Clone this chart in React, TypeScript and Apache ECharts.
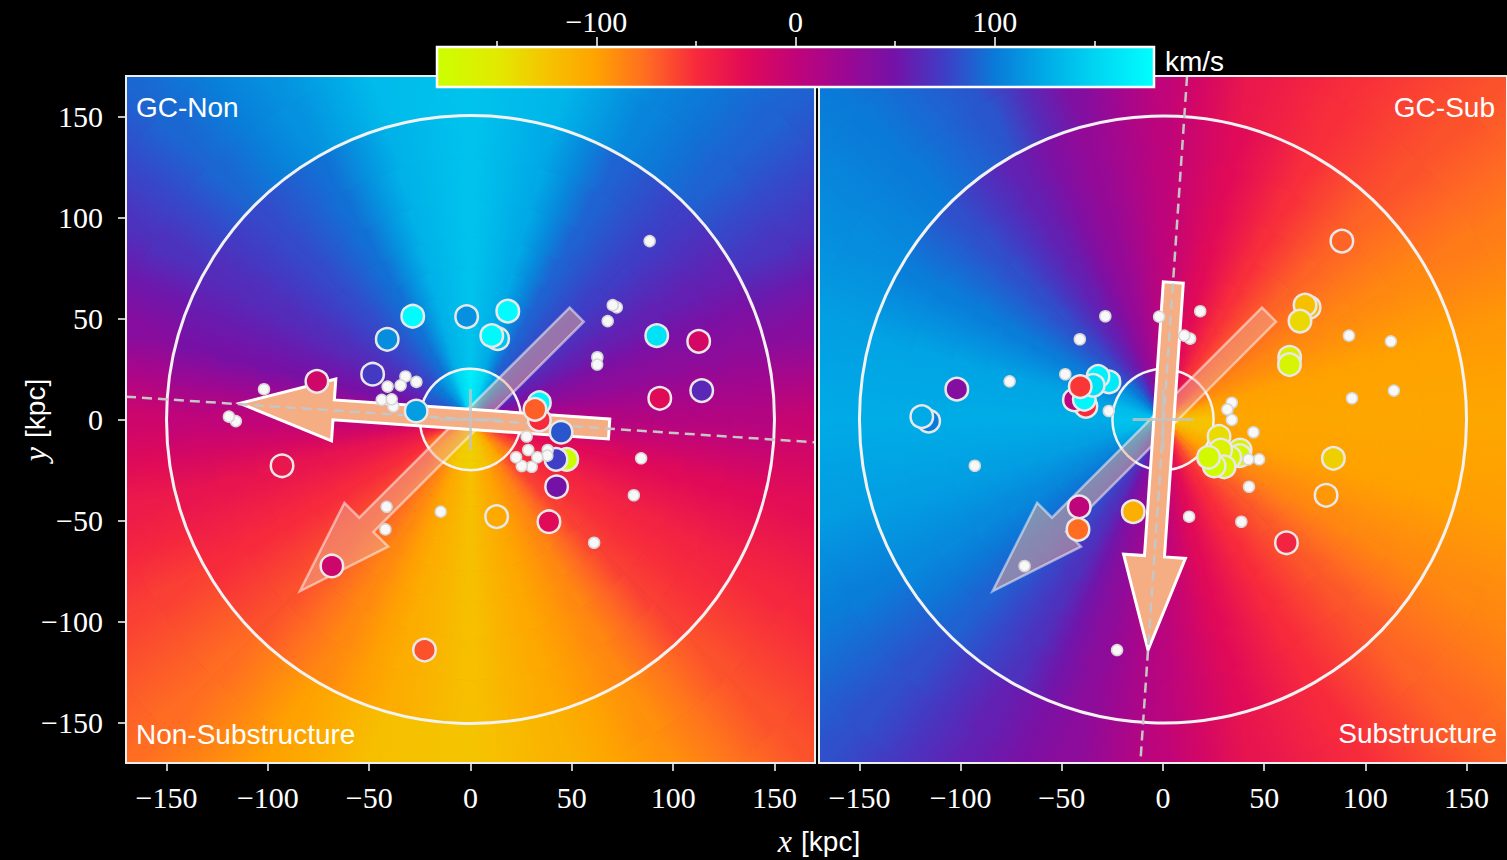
import React, { useEffect, useRef } from "react";
import * as echarts from "echarts";

// ---------- colour map (km/s -> colour) ----------
const cmapValues = [-180, -150, -125, -100, -75, -50, -25, 0, 25, 50, 75, 100, 125, 150, 180];
const cmapColors = [
  "#ccff00", "#e2ea00", "#f5c400", "#ffa200", "#ff6c22", "#f72a3c", "#e00a58",
  "#c00479", "#9c0893", "#7412a8", "#3e3ec6", "#0a7ad8", "#00aae6", "#00d4f2", "#00ffff",
];

// ---------- axes ----------
const panelTicks = [-150, -100, -50, 0, 50, 100, 150];
const cbarMajor = [-100, 0, 100];
const cbarMinor = [-150, -50, 50, 150];

// ---------- background velocity field, sampled by angle (deg, from +x, ccw) ----------
const fieldAngles = [0, 15, 30, 45, 60, 75, 90, 105, 120, 135, 150, 165, 180, 195, 210, 225, 240, 255, 270, 285, 300, 315, 330, 345];
// inner (r < 25 kpc), middle (25-150 kpc), outer (> 150 kpc)
const leftFieldInner = [10, 40, 68, 92, 122, 155, 168, 152, 122, 100, 88, 80, 30, -40, -75, -98, -118, -130, -132, -126, -112, -88, -62, -30];
const leftFieldMid = [8, 35, 58, 75, 90, 125, 140, 130, 96, 80, 65, 48, 0, -33, -50, -65, -88, -108, -122, -105, -88, -58, -45, -25];
const leftFieldOuter = [-5, 38, 70, 90, 105, 132, 140, 135, 112, 92, 68, 38, -10, -38, -58, -75, -100, -122, -125, -112, -92, -65, -48, -28];
const rightFieldInner = [-125, -108, -80, -55, -35, -15, 10, 40, 75, 100, 120, 135, 140, 135, 120, 100, 75, 45, 10, -30, -60, -88, -108, -122];
const rightFieldMid = [-103, -100, -88, -72, -52, -25, 2, 30, 58, 82, 102, 122, 126, 120, 108, 90, 68, 35, 5, -25, -50, -67, -88, -100];
const rightFieldOuter = [-103, -96, -82, -65, -52, -36, 0, 42, 85, 100, 110, 120, 125, 118, 102, 82, 58, 35, 0, -33, -50, -72, -88, -98];

// ---------- globular clusters ----------
const nonSubX = [-75.8, -93.0, -28.5, -1.9, -41.1, -48.3, -26.8, 91.9, 112.6, 93.4, 114.1, 18.4, 13.4, 10.5, 34.0, 34.0, 31.8, 44.7, 47.5, 42.2, 42.5, 12.9, 38.7, -68.4, -22.7];
const nonSubY = [18.9, -22.9, 51.1, 50.9, 39.7, 22.4, 4.2, 41.5, 38.7, 10.5, 14.3, 53.6, 40.0, 41.5, -0.2, 8.3, 5.0, -6.3, -19.7, -19.7, -33.3, -48.1, -50.6, -72.5, -114.1];
const nonSubV = [-12, -35, 178, 112, 110, 72, 118, 160, -15, -25, 62, 178, 140, 176, -50, 172, -70, 85, -178, 75, 50, -105, -25, -10, -65];

const subX = [-115.8, -119.2, -101.9, -38.1, -43.8, -38.9, -26.7, -32.1, -34.5, -40.9, 88.4, 72.2, 70.2, 67.7, 62.6, 62.5, 27.7, 38.1, 37.9, 33.0, 28.5, 30.2, 25.3, 22.5, 84.2, 80.6, 61.0, -14.7, -41.4, -42.0];
const subY = [-0.8, 1.4, 15.0, 6.5, 9.7, 10.0, 18.6, 21.3, 16.9, 16.3, 88.3, 55.5, 56.6, 48.7, 30.8, 27.2, -8.4, -15.1, -17.9, -18.7, -15.1, -23.4, -23.0, -18.7, -19.2, -37.5, -61.0, -45.6, -43.2, -54.4];
const subV = [100, 125, 40, -50, 5, 175, 165, 170, 160, -55, -72, -115, -122, -138, -158, -165, -140, -162, -170, -165, -160, -168, -175, -172, -132, -95, -45, -110, 0, -75];

// ---------- arrows [tailX, tailY, tipX, tipY] and reference lines ----------
const leftArrow = [68.4, -4.7, -113.8, 8.0];
const rightArrow = [5.1, 67.8, -7.4, -114.1];
const diagArrow = [52.4, 51.9, -84.2, -85.0];
const leftDashLine = [-170, 11.3, 170, -11.3];
const rightDashLine = [11.9, 170, -11.2, -170];
const circleRadii = [150, 25];
const crossHalf = [15];

// ---------- rendering constants ----------
const DEG = Math.PI / 180;
const ANGLE_STEP = 15;
const ringBands = [
  [0, 3, 5, 7, 9, 11, 13.5, 16.5, 20.5, 25],
  [25, 30, 36, 43, 52, 62, 75, 90, 108, 129, 150],
  [150, 180, 215, 260],
];
const SHAFT_W = 20;
const HEAD_W = 62;
const HEAD_L = 94;
const SALMON = "#f5ad84";
const TICK_FONT = 30;

function hexToRgb(h: string) {
  return [parseInt(h.slice(1, 3), 16), parseInt(h.slice(3, 5), 16), parseInt(h.slice(5, 7), 16)];
}
function cmap(v: number): string {
  const n = cmapValues.length;
  if (v <= cmapValues[0]) return cmapColors[0];
  if (v >= cmapValues[n - 1]) return cmapColors[n - 1];
  let i = 0;
  while (v > cmapValues[i + 1]) i++;
  const t = (v - cmapValues[i]) / (cmapValues[i + 1] - cmapValues[i]);
  const a = hexToRgb(cmapColors[i]);
  const b = hexToRgb(cmapColors[i + 1]);
  const c = a.map((x, j) => Math.round(x + (b[j] - x) * t));
  return `rgb(${c[0]},${c[1]},${c[2]})`;
}

const fmt = (v: number) => (v < 0 ? "\u2212" + Math.abs(v) : String(v));

function fieldData(profiles: number[][]) {
  const out: number[][] = [];
  profiles.forEach((prof, k) =>
    prof.forEach((v, i) => out.push([k, i, v, prof[(i + 1) % prof.length]]))
  );
  return out;
}

function renderField(params: any, api: any) {
  const k = api.value(0);
  const i = api.value(1);
  const v0 = api.value(2);
  const v1 = api.value(3);
  const a0 = fieldAngles[i] * DEG;
  const a1 = (fieldAngles[i] + ANGLE_STEP) * DEG;
  const c0 = cmap(v0);
  const cm = cmap((v0 + v1) / 2);
  const c1 = cmap(v1);
  const edges = ringBands[k];
  const children: any[] = [];
  const N = 4;
  for (let b = 0; b < edges.length - 1; b++) {
    const ra = edges[b];
    const rb = edges[b + 1];
    const pts: number[][] = [];
    for (let s = 0; s <= N; s++) {
      const a = a0 + ((a1 - a0) * s) / N;
      pts.push(api.coord([rb * Math.cos(a), rb * Math.sin(a)]));
    }
    if (ra === 0) pts.push(api.coord([0, 0]));
    else
      for (let s = N; s >= 0; s--) {
        const a = a0 + ((a1 - a0) * s) / N;
        pts.push(api.coord([ra * Math.cos(a), ra * Math.sin(a)]));
      }
    const rg = ra === 0 ? rb : ra;
    const p0 = api.coord([rg * Math.cos(a0), rg * Math.sin(a0)]);
    const p1 = api.coord([rg * Math.cos(a1), rg * Math.sin(a1)]);
    const mk = () => ({
      type: "linear",
      x: p0[0], y: p0[1], x2: p1[0], y2: p1[1],
      global: true,
      colorStops: [
        { offset: 0, color: c0 },
        { offset: 0.5, color: cm },
        { offset: 1, color: c1 },
      ],
    });
    children.push({
      type: "polygon",
      shape: { points: pts },
      style: { fill: mk(), stroke: mk(), lineWidth: 1 },
    });
  }
  return { type: "group", children };
}

function arrowPoints(api: any) {
  const p = api.coord([api.value(0), api.value(1)]);
  const q = api.coord([api.value(2), api.value(3)]);
  const dx = q[0] - p[0];
  const dy = q[1] - p[1];
  const L = Math.hypot(dx, dy);
  const ux = dx / L, uy = dy / L;
  const nx = -uy, ny = ux;
  const bx = q[0] - ux * HEAD_L, by = q[1] - uy * HEAD_L;
  const w = SHAFT_W / 2, h = HEAD_W / 2;
  return [
    [p[0] + nx * w, p[1] + ny * w],
    [bx + nx * w, by + ny * w],
    [bx + nx * h, by + ny * h],
    [q[0], q[1]],
    [bx - nx * h, by - ny * h],
    [bx - nx * w, by - ny * w],
    [p[0] - nx * w, p[1] - ny * w],
  ];
}

function panelSeries(
  gi: number,
  profiles: number[][],
  solidArrow: number[],
  dash: number[],
  colX: number[], colY: number[], colV: number[],
  whX: number[], whY: number[]
) {
  const base = { xAxisIndex: gi, yAxisIndex: gi, silent: true, animation: false };
  return [
    {
      ...base, type: "custom", z: 1, clip: true,
      data: fieldData(profiles), renderItem: renderField,
    },
    {
      ...base, type: "custom", z: 2, clip: true,
      data: circleRadii.map((r) => [0, 0, r]),
      renderItem: (params: any, api: any) => {
        const c = api.coord([api.value(0), api.value(1)]);
        const r = api.size([api.value(2), 0])[0];
        return {
          type: "circle",
          shape: { cx: c[0], cy: c[1], r },
          style: { fill: "none", stroke: "#f2f2f2", lineWidth: params.dataIndex === 0 ? 3 : 2.5 },
        };
      },
    },
    {
      ...base, type: "custom", z: 3, clip: true,
      data: [diagArrow],
      renderItem: (params: any, api: any) => ({
        type: "polygon",
        shape: { points: arrowPoints(api) },
        style: { fill: "rgba(240,172,145,0.5)", stroke: "rgba(255,255,255,0.5)", lineWidth: 2.5, lineJoin: "miter" },
      }),
    },
    {
      ...base, type: "custom", z: 4, clip: true,
      data: [solidArrow],
      renderItem: (params: any, api: any) => ({
        type: "polygon",
        shape: { points: arrowPoints(api) },
        style: { fill: SALMON, stroke: "#ffffff", lineWidth: 3, lineJoin: "miter" },
      }),
    },
    {
      ...base, type: "custom", z: 5, clip: true,
      data: [dash],
      renderItem: (params: any, api: any) => {
        const p = api.coord([api.value(0), api.value(1)]);
        const q = api.coord([api.value(2), api.value(3)]);
        return {
          type: "line",
          shape: { x1: p[0], y1: p[1], x2: q[0], y2: q[1] },
          style: { stroke: "#c6c6c6", lineWidth: 2.5, lineDash: [10, 6] },
        };
      },
    },
    {
      ...base, type: "custom", z: 6, clip: true,
      data: [[0, 0, crossHalf[0]]],
      renderItem: (params: any, api: any) => {
        const h = api.value(2);
        const a = api.coord([-h, 0]), b = api.coord([h, 0]);
        const c = api.coord([0, -h]), d = api.coord([0, h]);
        const st = { stroke: "rgba(195,195,195,0.8)", lineWidth: 3 };
        return {
          type: "group",
          children: [
            { type: "line", shape: { x1: a[0], y1: a[1], x2: b[0], y2: b[1] }, style: st },
            { type: "line", shape: { x1: c[0], y1: c[1], x2: d[0], y2: d[1] }, style: st },
          ],
        };
      },
    },
    {
      ...base, type: "custom", z: 7,
      data: [[0, 0]],
      renderItem: (params: any, api: any) => {
        const p = api.coord([-170, 170]);
        const q = api.coord([170, -170]);
        return {
          type: "rect",
          shape: { x: p[0], y: p[1], width: q[0] - p[0], height: q[1] - p[1] },
          style: { fill: "none", stroke: "#eeeeee", lineWidth: 2 },
        };
      },
    },
    {
      ...base, type: "scatter", z: 8,
      symbol: "circle", symbolSize: 22.5,
      data: colX.map((x, i) => [x, colY[i], colV[i]]),
      itemStyle: {
        color: (p: any) => cmap(p.value[2]),
        borderColor: "#e8e8e8",
        borderWidth: 2.5,
        opacity: 1,
      },
    },
    {
      ...base, type: "scatter", z: 9,
      symbol: "circle", symbolSize: 11,
      data: whX.map((x, i) => [x, whY[i]]),
      itemStyle: { color: "#f8f8f8", borderColor: "#d6d6d6", borderWidth: 1.5, opacity: 1 },
    },
  ];
}

function panelXAxis(gi: number) {
  return {
    type: "value", gridIndex: gi, min: -170, max: 170, position: "bottom",
    axisLine: { show: false, onZero: false },
    splitLine: { show: false },
    axisTick: { show: true, inside: false, length: 8, lineStyle: { color: "#ffffff", width: 1.5 }, customValues: panelTicks },
    axisLabel: {
      show: true, color: "#ffffff", fontFamily: "Liberation Serif", fontSize: TICK_FONT, margin: 19,
      customValues: panelTicks, formatter: fmt,
    },
  };
}

const axisTitleRich = {
  i: { fill: "#fff", color: "#fff", fontFamily: "Liberation Serif", fontStyle: "italic", fontSize: 32, padding: [0, 9, 0, 0] },
  s: { fill: "#fff", color: "#fff", fontFamily: "Liberation Sans", fontSize: 28 },
};

function buildOption() {
  const cbarStops = cmapValues.map((v, i) => ({ offset: (v + 180) / 360, color: cmapColors[i] }));
  return {
    backgroundColor: "#000000",
    animation: false,
    grid: [
      { left: 126, top: 76, width: 689, height: 687, outerBoundsMode: "none" },
      { left: 819, top: 76, width: 688, height: 687, outerBoundsMode: "none" },
      { left: 437, top: 47, width: 717, height: 40, outerBoundsMode: "none" },
      { left: 437, top: 47, width: 717, height: 40, outerBoundsMode: "none" },
    ],
    xAxis: [
      panelXAxis(0),
      panelXAxis(1),
      {
        type: "value", gridIndex: 2, min: -180, max: 180, position: "top",
        axisLine: { show: false, onZero: false }, splitLine: { show: false },
        axisTick: { show: true, inside: false, length: 10, lineStyle: { color: "#ffffff", width: 1.5 }, customValues: cbarMajor },
        axisLabel: { show: true, color: "#ffffff", fontFamily: "Liberation Serif", fontSize: TICK_FONT, margin: 11, customValues: cbarMajor, formatter: fmt },
      },
      {
        type: "value", gridIndex: 3, min: -180, max: 180, position: "top",
        axisLine: { show: false, onZero: false }, splitLine: { show: false },
        axisTick: { show: true, inside: false, length: 6, lineStyle: { color: "#ffffff", width: 1.5 }, customValues: cbarMinor },
        axisLabel: { show: false },
      },
    ],
    yAxis: [
      {
        type: "value", gridIndex: 0, min: -170, max: 170, position: "left",
        axisLine: { show: false, onZero: false }, splitLine: { show: false },
        axisTick: { show: true, inside: false, length: 8, lineStyle: { color: "#ffffff", width: 1.5 }, customValues: panelTicks },
        axisLabel: { show: true, color: "#ffffff", fontFamily: "Liberation Serif", fontSize: TICK_FONT, margin: 23, customValues: panelTicks, formatter: fmt },
      },
      { type: "value", gridIndex: 1, min: -170, max: 170, show: false, axisLine: { onZero: false } },
      { type: "value", gridIndex: 2, min: 0, max: 1, show: false },
      { type: "value", gridIndex: 3, min: 0, max: 1, show: false },
    ],
    series: [
      ...panelSeries(0, [leftFieldInner, leftFieldMid, leftFieldOuter], leftArrow, leftDashLine, nonSubX, nonSubY, nonSubV, subX, subY),
      ...panelSeries(1, [rightFieldInner, rightFieldMid, rightFieldOuter], rightArrow, rightDashLine, subX, subY, subV, nonSubX, nonSubY),
      {
        type: "custom", xAxisIndex: 2, yAxisIndex: 2, z: 20, silent: true,
        data: [[0, 0]],
        renderItem: (params: any, api: any) => {
          const p = api.coord([-180, 1]);
          const q = api.coord([180, 0]);
          return {
            type: "rect",
            shape: { x: p[0], y: p[1], width: q[0] - p[0], height: q[1] - p[1] },
            style: {
              fill: { type: "linear", x: p[0], y: 0, x2: q[0], y2: 0, global: true, colorStops: cbarStops },
              stroke: "#ffffff", lineWidth: 2.5,
            },
          };
        },
      },
    ],
    graphic: [
      { type: "text", x: 136, y: 107, z: 50, silent: true, style: { text: "GC-Non", fill: "#fff", font: '28px "Liberation Sans"', align: "left", verticalAlign: "middle", textAlign: "left", textVerticalAlign: "middle" } },
      { type: "text", x: 1495, y: 107, z: 50, silent: true, style: { text: "GC-Sub", fill: "#fff", font: '28px "Liberation Sans"', align: "right", verticalAlign: "middle", textAlign: "right", textVerticalAlign: "middle" } },
      { type: "text", x: 136, y: 734, z: 50, silent: true, style: { text: "Non-Substructure", fill: "#fff", font: '28px "Liberation Sans"', align: "left", verticalAlign: "middle", textAlign: "left", textVerticalAlign: "middle" } },
      { type: "text", x: 1497, y: 733, z: 50, silent: true, style: { text: "Substructure", fill: "#fff", font: '28px "Liberation Sans"', align: "right", verticalAlign: "middle", textAlign: "right", textVerticalAlign: "middle" } },
      { type: "text", x: 1165, y: 61, z: 50, silent: true, style: { text: "km/s", fill: "#fff", font: '28px "Liberation Sans"', align: "left", verticalAlign: "middle", textAlign: "left", textVerticalAlign: "middle" } },
      {
        type: "text", x: 819, y: 841, z: 50, silent: true,
        style: {
          text: "{i|x}{s|[kpc]}", align: "center", verticalAlign: "middle", textAlign: "center", textVerticalAlign: "middle",
          rich: axisTitleRich,
        },
      },
      {
        type: "text", x: 35, y: 420, rotation: Math.PI / 2, z: 50, silent: true,
        style: {
          text: "{i|y}{s|[kpc]}", align: "center", verticalAlign: "middle", textAlign: "center", textVerticalAlign: "middle",
          rich: axisTitleRich,
        },
      },
    ],
  };
}

export default function App() {
  const ref = useRef<HTMLDivElement>(null);
  useEffect(() => {
    const chart = echarts.init(ref.current as HTMLDivElement, null, { renderer: "svg" });
    chart.setOption(buildOption() as any);
    return () => chart.dispose();
  }, []);
  return (
    <div
      ref={ref}
      style={{ position: "fixed", left: 0, top: 0, width: 1507, height: 860, background: "#000" }}
    />
  );
}
